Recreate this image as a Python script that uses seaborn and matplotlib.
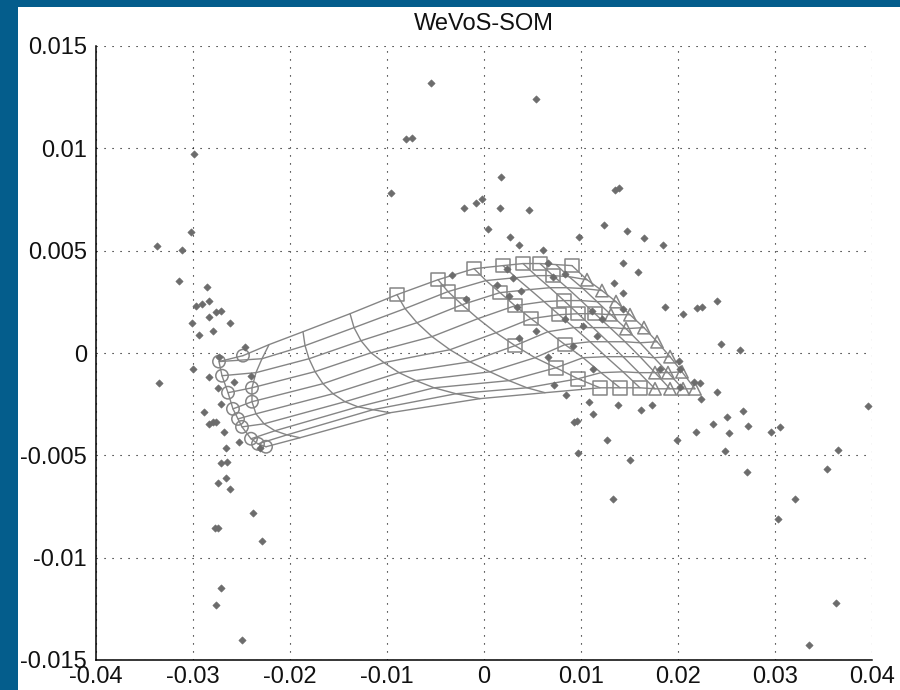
import numpy as np
import pandas as pd
import matplotlib
matplotlib.use("Agg")
import matplotlib.pyplot as plt
import seaborn as sns
from matplotlib.patches import Rectangle

# ---------------- data ----------------
title = "WeVoS-SOM"
x_ticks = [-0.04, -0.03, -0.02, -0.01, 0.0, 0.01, 0.02, 0.03, 0.04]
x_tick_labels = ["-0.04", "-0.03", "-0.02", "-0.01", "0", "0.01", "0.02", "0.03", "0.04"]
y_ticks = [-0.015, -0.01, -0.005, 0.0, 0.005, 0.01, 0.015]
y_tick_labels = ["-0.015", "-0.01", "-0.005", "0", "0.005", "0.01", "0.015"]

# data samples (grey diamonds)
sample_x = [-0.00546, -0.00809, -0.00742, -0.0299, -0.00959, -0.0302, 0.00533, 0.00175, -0.00206, -0.00086,
            -0.00017, 0.00162, 0.00467, 0.00045, 0.00271, 0.00979, 0.0135, 0.0139, 0.01237, 0.0147,
            0.0165, -0.0337, -0.0311, -0.0314, -0.0286, -0.0297, -0.0291, -0.0283, -0.0276, -0.0271,
            -0.0283, -0.0301, -0.0262, -0.0279, -0.0294, -0.0246, -0.0335, -0.0300, -0.0284, -0.0274,
            -0.0271, -0.0289, -0.0284, -0.0279, -0.0276, -0.0268, -0.0253, -0.0266, -0.0240, -0.0258,
            -0.0271, -0.0265, -0.0274, -0.0266, -0.0262, -0.02385, -0.0277, -0.0274, -0.0229, -0.0271,
            -0.0276, -0.0249, 0.01327, 0.03206, 0.0303, 0.0363, 0.0335, 0.00361, 0.00611, 0.0185,
            0.01436, 0.0159, 0.0134, 0.01436, 0.01866, 0.0205, 0.0220, 0.0225, 0.02405, 0.0244,
            0.0264, 0.00361, 0.00663, 0.00914, 0.01127, 0.00842, 0.01086, 0.01127, 0.0138, 0.0162,
            0.0173, 0.0224, 0.02405, 0.0223, 0.0267, 0.0251, 0.02725, 0.0236, 0.02186, 0.0253,
            0.0296, 0.0305, 0.03955, 0.01986, 0.0248, 0.0365, 0.0354, 0.0271, 0.0093, 0.00955,
            0.0127, 0.00966, 0.01508, -0.00333, 0.00131, 0.0024, 0.00378, 0.0030, 0.00657, 0.00835,
            0.00258, 0.00337, 0.00536, 0.00835, 0.01024, 0.0116, 0.01436, 0.01213, 0.00725, 0.0181,
            0.0201, 0.0202, -0.00189, 0.0216, 0.0202, -0.0273, -0.0231, 0.0111, 0.00715]
sample_y = [0.01317, 0.01045, 0.01051, 0.0097, 0.0078, 0.00593, 0.0124, 0.00862, 0.00707, 0.00732,
            0.00753, 0.00707, 0.0070, 0.00606, 0.00569, 0.00565, 0.00798, 0.00808, 0.00627, 0.00598,
            0.00562, 0.00525, 0.00504, 0.0035, 0.00321, 0.00228, 0.0024, 0.00256, 0.00199, 0.00204,
            0.00174, 0.00147, 0.00147, 0.00109, 0.00086, 0.00027, -0.00147, -0.00078, -0.00116, -0.00173,
            -0.00249, -0.00286, -0.00347, -0.00339, -0.00336, -0.00385, -0.00437, -0.00462, -0.00111, -0.00144,
            -0.00538, -0.00532, -0.00633, -0.00613, -0.00665, -0.00781, -0.00853, -0.00853, -0.00919, -0.01146,
            -0.01232, -0.0140, -0.00714, -0.00714, -0.00809, -0.0122, -0.01428, 0.00526, 0.00505, 0.00526,
            0.00438, 0.00394, 0.00344, 0.00293, 0.00226, 0.00191, 0.00218, 0.00226, 0.00256, 0.00044,
            0.00015, 0.00073, -0.00021, 0.00036, -0.00078, -0.00204, -0.00241, -0.00298, -0.00254, -0.00277,
            -0.00254, -0.00225, -0.00189, -0.00147, -0.00285, -0.00311, -0.00356, -0.00349, -0.00385, -0.00393,
            -0.00385, -0.00364, -0.00261, -0.00424, -0.00481, -0.00474, -0.00569, -0.00582, -0.00339, -0.00333,
            -0.00424, -0.00488, -0.00523, 0.00381, 0.00332, 0.0041, 0.00305, 0.00367, 0.0044, 0.00386,
            0.0028, 0.00223, 0.00109, 0.00166, 0.00133, 0.00085, 0.00215, 0.00166, -0.00155, -0.00078,
            -0.00038, -0.00078, 0.00264, -0.00144, -0.00168, -0.00018, -0.00462, 0.00207, 0.0037]

# SOM neuron positions: rows (top -> bottom) x columns (left -> right)
mesh_x = [
    [-0.02485, -0.02216, -0.01866, -0.01381, -0.00897, -0.00474, -0.00103, 0.00196, 0.00402, 0.00577, 0.00742, 0.00907],
    [-0.02732, -0.02289, -0.01845, -0.01340, -0.00814, -0.00371, 0.00021, 0.00330, 0.00536, 0.00711, 0.00876, 0.01062],
    [-0.02701, -0.02351, -0.01804, -0.01268, -0.00691, -0.00227, 0.00165, 0.00474, 0.00680, 0.00856, 0.01021, 0.01216],
    [-0.02639, -0.02392, -0.01742, -0.01165, -0.00536, -0.00062, 0.00320, 0.00619, 0.00825, 0.01000, 0.01165, 0.01361],
    [-0.02588, -0.02392, -0.01660, -0.01031, -0.00351, 0.00124, 0.00485, 0.00773, 0.00969, 0.01144, 0.01309, 0.01505],
    [-0.02536, -0.02351, -0.01557, -0.00876, -0.00144, 0.00320, 0.00660, 0.00928, 0.01124, 0.01299, 0.01464, 0.01649],
    [-0.02495, -0.02268, -0.01433, -0.00701, 0.00062, 0.00526, 0.00835, 0.01093, 0.01278, 0.01454, 0.01608, 0.01784],
    [-0.02402, -0.02155, -0.01299, -0.00515, 0.00258, 0.00742, 0.01021, 0.01258, 0.01433, 0.01608, 0.01753, 0.01918],
    [-0.02330, -0.02031, -0.01144, -0.00289, 0.00443, 0.00969, 0.01206, 0.01433, 0.01598, 0.01763, 0.01897, 0.02041],
    [-0.02247, -0.01897, -0.00969, -0.00041, 0.00629, 0.01196, 0.01402, 0.01608, 0.01763, 0.01918, 0.02052, 0.02175],
]
mesh_y = [
    [-0.00013, 0.00041, 0.00104, 0.00192, 0.00285, 0.00358, 0.00412, 0.00427, 0.00437, 0.00437, 0.00432, 0.00427],
    [-0.00042, -0.00028, 0.00036, 0.00124, 0.00217, 0.00300, 0.00354, 0.00368, 0.00378, 0.00378, 0.00373, 0.00358],
    [-0.00111, -0.00096, -0.00028, 0.00060, 0.00148, 0.00236, 0.00295, 0.00310, 0.00319, 0.00319, 0.00315, 0.00305],
    [-0.00194, -0.00170, -0.00091, 0.00001, 0.00080, 0.00168, 0.00231, 0.00251, 0.00256, 0.00256, 0.00251, 0.00251],
    [-0.00273, -0.00238, -0.00150, -0.00047, 0.00016, 0.00099, 0.00168, 0.00187, 0.00192, 0.00192, 0.00187, 0.00187],
    [-0.00322, -0.00297, -0.00199, -0.00096, -0.00043, 0.00036, 0.00104, 0.00124, 0.00124, 0.00124, 0.00119, 0.00124],
    [-0.00361, -0.00346, -0.00238, -0.00135, -0.00092, -0.00023, 0.00041, 0.00055, 0.00055, 0.00055, 0.00050, 0.00055],
    [-0.00419, -0.00380, -0.00263, -0.00170, -0.00135, -0.00072, -0.00023, -0.00018, -0.00018, -0.00018, -0.00023, -0.00018],
    [-0.00444, -0.00400, -0.00277, -0.00199, -0.00170, -0.00126, -0.00096, -0.00092, -0.00096, -0.00096, -0.00096, -0.00092],
    [-0.00458, -0.00414, -0.00292, -0.00223, -0.00194, -0.00170, -0.00170, -0.00170, -0.00175, -0.00175, -0.00175, -0.00175],
]

# neuron class labels (row, col of labelled neurons)
circle_rows = [0, 1, 2, 3, 4, 5, 6, 7, 8, 9, 3, 4]
circle_cols = [0, 0, 0, 0, 0, 0, 0, 0, 0, 0, 1, 1]
square_rows = [0, 0, 0, 0, 0, 0, 0, 1, 2, 2, 1, 3, 3, 4, 4, 4, 4, 5, 6, 7, 8, 9, 9, 9]
square_cols = [4, 5, 6, 7, 8, 9, 11, 5, 5, 6, 9, 6, 8, 6, 7, 8, 9, 5, 6, 5, 5, 5, 6, 7]
triangle_rows = [1, 2, 3, 4, 5, 6, 7, 8, 9, 4, 5, 8, 8, 9, 9, 9]
triangle_cols = [11, 11, 11, 11, 11, 11, 11, 11, 11, 10, 10, 9, 10, 8, 9, 10]

# ---------------- style ----------------
sns.set_style("white")
plt.rcParams["font.family"] = ["Liberation Sans", "DejaVu Sans"]

BLUE = "#045d8c"
MESH = "#858585"
DOT = "#6c6c6c"

fig = plt.figure(figsize=(9, 6.9), dpi=100)
fig.patch.set_facecolor(BLUE)
fig.add_artist(Rectangle((18 / 900, 0), 882 / 900, 683 / 690, transform=fig.transFigure,
                         facecolor="white", edgecolor="none", zorder=-1))
ax = fig.add_axes([96 / 900, 30 / 690, 776 / 900, 614 / 690])
ax.set_facecolor("white")

mx = np.array(mesh_x)
my = np.array(mesh_y)
recs = []
for i in range(mx.shape[0]):
    for j in range(mx.shape[1]):
        recs.append({"x": mx[i, j], "y": my[i, j], "line": f"r{i}"})
for j in range(mx.shape[1]):
    for i in range(mx.shape[0]):
        recs.append({"x": mx[i, j], "y": my[i, j], "line": f"c{j}"})
mesh_df = pd.DataFrame(recs)

sns.lineplot(data=mesh_df, x="x", y="y", units="line", estimator=None, sort=False,
             color=MESH, linewidth=1.0, ax=ax, legend=False, zorder=2)

for rows, cols, mk, sz in [(circle_rows, circle_cols, "o", 80),
                           (square_rows, square_cols, "s", 95),
                           (triangle_rows, triangle_cols, "^", 80)]:
    sns.scatterplot(x=mx[rows, cols], y=my[rows, cols], marker=mk, s=sz, color=MESH,
                    facecolor="none", edgecolor=MESH, linewidth=1.1, ax=ax, zorder=3,
                    legend=False)

sns.scatterplot(x=sample_x, y=sample_y, marker="D", s=14, color=DOT, edgecolor=DOT,
                linewidth=0.4, ax=ax, zorder=4, legend=False)

ax.set_xlim(-0.04, 0.04)
ax.set_ylim(-0.015, 0.015)
ax.set_xticks(x_ticks, x_tick_labels)
ax.set_yticks(y_ticks, y_tick_labels)
ax.set_xlabel("")
ax.set_ylabel("")
ax.grid(True, color="black", linestyle=(0, (1, 6.2)), linewidth=0.8)
ax.set_axisbelow(True)

sns.despine(ax=ax)
for side in ["left", "bottom"]:
    ax.spines[side].set_color("black")
    ax.spines[side].set_linewidth(1.1)

ax.tick_params(axis="both", direction="in", length=7, width=1.1, color="black",
               labelsize=17, labelcolor="#111111")
ax.tick_params(axis="x", pad=4.5)
ax.tick_params(axis="y", pad=6.5)
ax.set_title(title, fontsize=17, pad=11.5, color="#111111")

fig.savefig("out.png", dpi=100, facecolor=fig.get_facecolor())
